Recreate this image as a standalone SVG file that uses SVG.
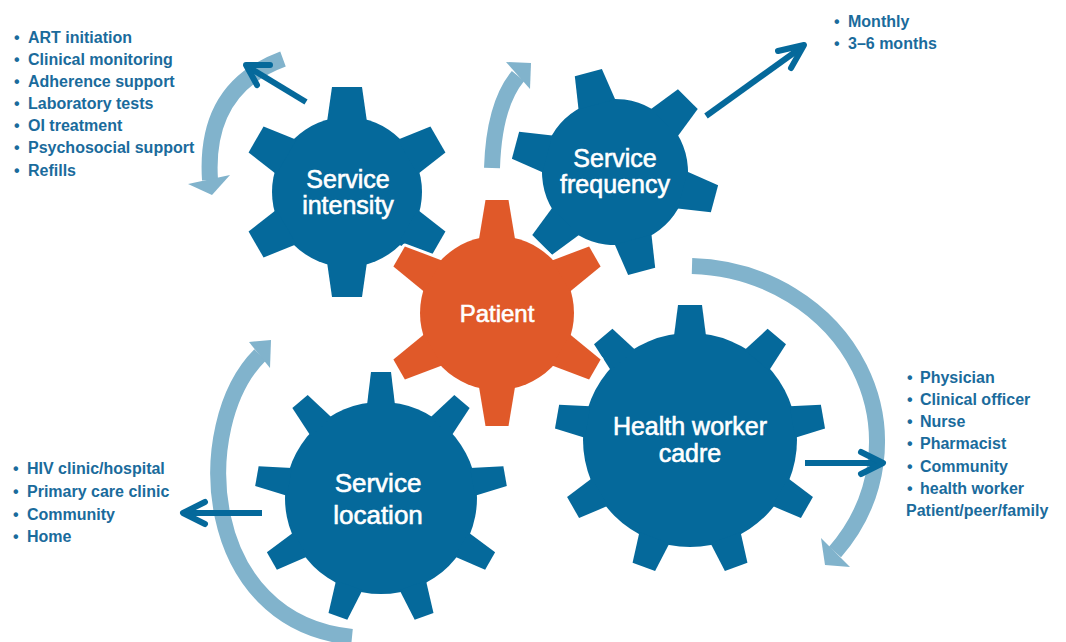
<svg xmlns="http://www.w3.org/2000/svg" width="1066" height="642" viewBox="0 0 1066 642">
<style>
.gear{fill:#05699b}
.patient{fill:#e05929}
.halo{fill:#fff;stroke:#fff;stroke-width:6;stroke-linejoin:round}
.label{font-family:"Liberation Sans",Arial,sans-serif;fill:#fff;stroke:#fff;stroke-width:0.6;text-anchor:middle}
.list{font-family:"Liberation Sans",Arial,sans-serif;font-weight:bold;font-size:16px;fill:#1a6b9c}
.band{fill:none;stroke:#81b3cc;stroke-width:16}
.head{fill:#81b3cc}
.dark{fill:none;stroke:#05699b;stroke-width:6}
.chev{fill:none;stroke:#05699b;stroke-width:6;stroke-linecap:round;stroke-linejoin:round}
</style>
<defs>
<polygon id="t-int" points="-20,-70 20,-70 15,-105 -15,-105"/>
<polygon id="t-freq" points="-19,-70 19,-70 14,-103 -14,-103"/>
<polygon id="t-pat" points="-18,-74 18,-74 11.5,-113 -11.5,-113"/>
<polygon id="t-hw" points="-16,-104 16,-104 12,-135 -12,-135"/>
<polygon id="t-loc" points="-14,-93 14,-93 10,-126 -10,-126"/>
<g id="g-pat">
<circle r="77"/>
<use href="#t-pat"/>
<use href="#t-pat" transform="rotate(60)"/>
<use href="#t-pat" transform="rotate(120)"/>
<use href="#t-pat" transform="rotate(180)"/>
<use href="#t-pat" transform="rotate(240)"/>
<use href="#t-pat" transform="rotate(300)"/>
</g>
</defs>
<rect width="1066" height="642" fill="#fff"/>

<g id="connectors">
<path class="band" d="M 283 59 Q 204 88 210 180"/>
<polygon class="head" points="188,184 230,175 212,195"/>
<path class="band" stroke-width="15" d="M 492 168 Q 494 105 518 76"/>
<polygon class="head" points="506,62 531,63 530,89"/>
<path class="band" d="M 692 266 A 191 176 0 0 1 835 552"/>
<polygon class="head" points="821,538 850,567 825,565"/>
<path class="band" d="M 352 637 C 200 622 190 425 260 355"/>
<polygon class="head" points="249,342 271,340 270,368"/>

<line class="dark" x1="306" y1="102" x2="248" y2="67"/>
<polyline class="chev" points="270,65 246,65 257,85"/>
<line class="dark" x1="706" y1="116" x2="802" y2="47"/>
<polyline class="chev" points="778,51 804,45 791,68"/>
<line class="dark" x1="805" y1="463" x2="881" y2="463"/>
<polyline class="chev" points="861,452 883,463 861,474"/>
<line class="dark" x1="262" y1="513" x2="185" y2="513"/>
<polyline class="chev" points="205,502 183,513 205,524"/>
</g>

<g id="node-service-intensity">
<g class="gear" transform="translate(347,192)">
<circle r="75"/>
<use href="#t-int"/>
<use href="#t-int" transform="rotate(60)"/>
<use href="#t-int" transform="rotate(120)"/>
<use href="#t-int" transform="rotate(180)"/>
<use href="#t-int" transform="rotate(240)"/>
<use href="#t-int" transform="rotate(300)"/>
</g>
<text class="label" font-size="25" x="348" y="188">Service</text>
<text class="label" font-size="25" x="348" y="214">intensity</text>
</g>

<g id="node-service-frequency">
<g class="gear" transform="translate(615,172) rotate(-15)">
<circle r="73"/>
<use href="#t-freq"/>
<use href="#t-freq" transform="rotate(60)"/>
<use href="#t-freq" transform="rotate(120)"/>
<use href="#t-freq" transform="rotate(180)"/>
<use href="#t-freq" transform="rotate(240)"/>
<use href="#t-freq" transform="rotate(300)"/>
</g>
<text class="label" font-size="25" x="615" y="167">Service</text>
<text class="label" font-size="25" x="615" y="193">frequency</text>
</g>

<g id="node-health-worker-cadre">
<g class="gear" transform="translate(690,440)">
<circle r="107"/>
<use href="#t-hw"/>
<use href="#t-hw" transform="rotate(40)"/>
<use href="#t-hw" transform="rotate(80)"/>
<use href="#t-hw" transform="rotate(120)"/>
<use href="#t-hw" transform="rotate(160)"/>
<use href="#t-hw" transform="rotate(200)"/>
<use href="#t-hw" transform="rotate(240)"/>
<use href="#t-hw" transform="rotate(280)"/>
<use href="#t-hw" transform="rotate(320)"/>
</g>
<text class="label" font-size="25" x="690" y="435">Health worker</text>
<text class="label" font-size="25" x="690" y="462">cadre</text>
</g>

<g id="node-service-location">
<g class="gear" transform="translate(381,498)">
<circle r="96"/>
<use href="#t-loc"/>
<use href="#t-loc" transform="rotate(40)"/>
<use href="#t-loc" transform="rotate(80)"/>
<use href="#t-loc" transform="rotate(120)"/>
<use href="#t-loc" transform="rotate(160)"/>
<use href="#t-loc" transform="rotate(200)"/>
<use href="#t-loc" transform="rotate(240)"/>
<use href="#t-loc" transform="rotate(280)"/>
<use href="#t-loc" transform="rotate(320)"/>
</g>
<text class="label" font-size="26" x="378" y="492">Service</text>
<text class="label" font-size="26" x="378" y="524">location</text>
</g>

<g id="node-patient">
<use href="#g-pat" class="halo" transform="translate(497,313)"/>
<use href="#g-pat" class="patient" transform="translate(497,313)"/>
<text class="label" font-size="24" x="497" y="322">Patient</text>
</g>

<g id="list-intensity" class="list">
<text x="14" y="43">•<tspan x="28">ART initiation</tspan></text>
<text x="14" y="65">•<tspan x="28">Clinical monitoring</tspan></text>
<text x="14" y="87">•<tspan x="28">Adherence support</tspan></text>
<text x="14" y="109">•<tspan x="28">Laboratory tests</tspan></text>
<text x="14" y="131">•<tspan x="28">OI treatment</tspan></text>
<text x="14" y="153">•<tspan x="28">Psychosocial support</tspan></text>
<text x="14" y="175.5">•<tspan x="28">Refills</tspan></text>
</g>

<g id="list-frequency" class="list">
<text x="834" y="27">•<tspan x="848">Monthly</tspan></text>
<text x="834" y="49">•<tspan x="848">3–6 months</tspan></text>
</g>

<g id="list-cadre" class="list">
<text x="907" y="383">•<tspan x="920">Physician</tspan></text>
<text x="907" y="405">•<tspan x="920">Clinical officer</tspan></text>
<text x="907" y="427">•<tspan x="920">Nurse</tspan></text>
<text x="907" y="449">•<tspan x="920">Pharmacist</tspan></text>
<text x="907" y="471.5">•<tspan x="920">Community</tspan></text>
<text x="907" y="493.5">•<tspan x="920">health worker</tspan></text>
<text x="906" y="515.5">Patient/peer/family</text>
</g>

<g id="list-location" class="list">
<text x="13" y="474">•<tspan x="27">HIV clinic/hospital</tspan></text>
<text x="13" y="497">•<tspan x="27">Primary care clinic</tspan></text>
<text x="13" y="519.5">•<tspan x="27">Community</tspan></text>
<text x="13" y="542">•<tspan x="27">Home</tspan></text>
</g>
</svg>
